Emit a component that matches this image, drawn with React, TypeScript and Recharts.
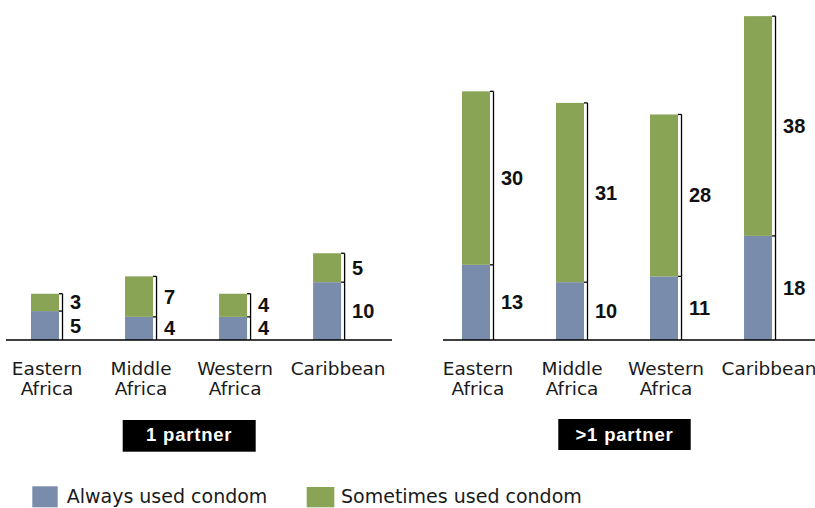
import React from 'react';
import { BarChart, Bar, XAxis, YAxis, LabelList } from 'recharts';

const regions = ['Eastern Africa', 'Middle Africa', 'Western Africa', 'Caribbean'];
const alwaysOnePartner = [5, 4, 4, 10];
const sometimesOnePartner = [3, 7, 4, 5];
const alwaysMultiPartner = [13, 10, 11, 18];
const sometimesMultiPartner = [30, 31, 28, 38];
const panelTitles = ['1 partner', '>1 partner'];
const seriesNames = ['Always used condom', 'Sometimes used condom'];
const regionTicks = [0, 1, 2, 3];

const BLUE = '#7a8cac';
const GREEN = '#88a454';
const INK = '#111111';

const buildRows = (always: number[], sometimes: number[]) =>
  regions.map((region, i) => ({ idx: i, region, always: always[i], sometimes: sometimes[i] }));

const dataOne = buildRows(alwaysOnePartner, sometimesOnePartner);
const dataMulti = buildRows(alwaysMultiPartner, sometimesMultiPartner);

const BracketBar = (props: any) => {
  const { x, y, width, height, fill } = props;
  if (!height || height <= 0) return null;
  const lx = x + width + 3.5;
  return (
    <g>
      <rect x={x} y={y} width={width} height={height} fill={fill} />
      <line x1={lx} y1={y} x2={lx} y2={y + height} stroke="#000" strokeWidth={1.3} />
      <line x1={x + width} y1={y} x2={lx} y2={y} stroke="#000" strokeWidth={1.3} />
    </g>
  );
};

const SegLabel = (props: any) => {
  const vb = props.viewBox || {};
  const x = props.x ?? vb.x;
  const y = props.y ?? vb.y;
  const width = props.width ?? vb.width;
  const height = props.height ?? vb.height;
  return (
    <text
      x={x + width + 11}
      y={y + height / 2}
      dominantBaseline="central"
      fontFamily="'Liberation Sans', Arial, sans-serif"
      fontWeight="bold"
      fontSize={20}
      fill={INK}
    >
      {props.value}
    </text>
  );
};

const RegionTick = (props: any) => {
  const { x, y, payload } = props;
  const lines = regions[payload.value].split(' ');
  const dx = lines.length === 1 ? 11 : 2;
  return (
    <text
      textAnchor="middle"
      fontFamily="'DejaVu Sans', sans-serif"
      fontSize={18.5}
      fill="#1a1a1a"
    >
      {lines.map((l: string, i: number) => (
        <tspan key={i} x={x + dx} y={y + 35 + i * 19.5}>
          {l}
        </tspan>
      ))}
    </text>
  );
};

const Panel = ({ data, width, margin, domain }: any) => (
  <BarChart width={width} height={508} data={data} margin={margin}>
    <XAxis
      type="number"
      dataKey="idx"
      domain={domain}
      allowDataOverflow
      ticks={regionTicks}
      interval={0}
      tick={<RegionTick />}
      tickLine={false}
      tickSize={0}
      tickMargin={0}
      height={60}
      axisLine={{ stroke: '#000', strokeWidth: 1.4 }}
    />
    <YAxis hide width={0} type="number" domain={[0, 56.2]} allowDataOverflow />
    <Bar dataKey="always" stackId="s" fill={BLUE} barSize={28} shape={<BracketBar />} isAnimationActive={false}>
      <LabelList dataKey="always" content={<SegLabel />} />
    </Bar>
    <Bar dataKey="sometimes" stackId="s" fill={GREEN} barSize={28} shape={<BracketBar />} isAnimationActive={false}>
      <LabelList dataKey="sometimes" content={<SegLabel />} />
    </Bar>
  </BarChart>
);

export default function App() {
  return (
    <div style={{ position: 'absolute', left: 0, top: 0, width: 815, height: 508, background: '#fff', overflow: 'hidden' }}>
      <div style={{ position: 'absolute', left: 0, top: 0 }}>
        <Panel data={dataOne} width={400} margin={{ top: 15, right: 8, bottom: 108, left: 6 }} domain={[-0.415, 3.69]} />
      </div>
      <div style={{ position: 'absolute', left: 400, top: 0 }}>
        <Panel data={dataMulti} width={415} margin={{ top: 15, right: 0, bottom: 108, left: 43 }} domain={[-0.351, 3.606]} />
      </div>
      <svg width={815} height={508} style={{ position: 'absolute', left: 0, top: 0, pointerEvents: 'none' }}>
        <rect x={122.7} y={420} width={133} height={31.7} fill="#000" />
        <text x={189.2} y={441} textAnchor="middle" fill="#fff" fontFamily="'Liberation Sans', Arial, sans-serif" fontWeight="bold" fontSize={18.5} letterSpacing={0.8}>
          {panelTitles[0]}
        </text>
        <rect x={558.3} y={419} width={132.4} height={31} fill="#000" />
        <text x={624.5} y={440.5} textAnchor="middle" fill="#fff" fontFamily="'Liberation Sans', Arial, sans-serif" fontWeight="bold" fontSize={18.5} letterSpacing={0.8}>
          {panelTitles[1]}
        </text>
        <rect x={32.3} y={486.3} width={25.4} height={21} fill={BLUE} />
        <text x={66.7} y={502.7} fill="#1a1a1a" fontFamily="'DejaVu Sans', sans-serif" fontSize={19}>
          {seriesNames[0]}
        </text>
        <rect x={306.7} y={487} width={27.6} height={20.3} fill={GREEN} />
        <text x={341} y={502.7} fill="#1a1a1a" fontFamily="'DejaVu Sans', sans-serif" fontSize={19}>
          {seriesNames[1]}
        </text>
      </svg>
    </div>
  );
}
